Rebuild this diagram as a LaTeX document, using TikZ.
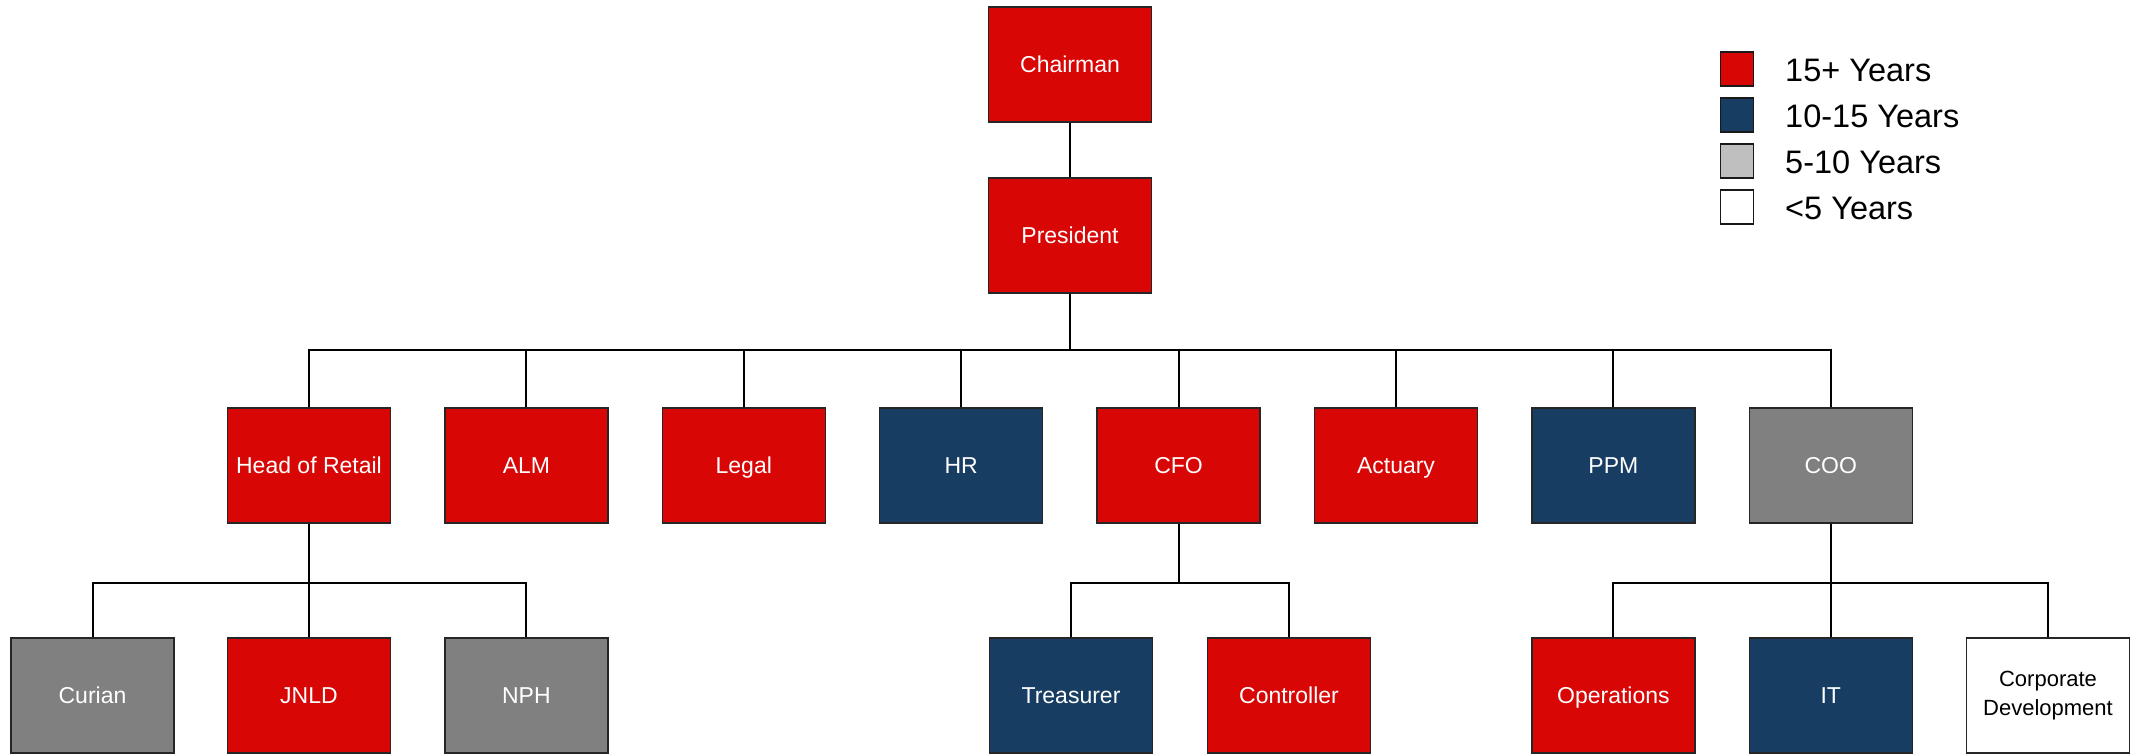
\documentclass[tikz,border=0pt]{standalone}
\usepackage{fontspec}
\setmainfont{Liberation Sans}
\definecolor{cred}{HTML}{D90606}
\definecolor{cnavy}{HTML}{173D63}
\definecolor{cgray}{HTML}{808080}
\definecolor{clgray}{HTML}{BFBFBF}
\begin{document}
\begin{tikzpicture}[x=1pt,y=-1pt,
  box/.style={draw=black!85, line width=1.3pt, minimum width=163pt, minimum height=115pt,
    inner sep=0pt, text=white, font=\fontsize{23}{27}\selectfont, text height=16.5pt, text depth=0pt},
  yrA/.style={box, fill=cred},
  yrB/.style={box, fill=cnavy},
  yrC/.style={box, fill=cgray},
  yrD/.style={draw=black!85, line width=1.3pt, minimum width=163pt, minimum height=115pt,
    inner sep=0pt, fill=white, text=black, align=center, font=\fontsize{22}{29.5}\selectfont},
  link/.style={line width=2pt, black},
  swatch/.style={draw=black!90, line width=1.3pt, minimum width=33pt, minimum height=34pt, inner sep=0pt},
  legtext/.style={anchor=base west, inner sep=0pt, font=\fontsize{32.5}{38}\selectfont}
]
\useasboundingbox (0,0) rectangle (2134,753);
\clip (0,0) rectangle (2134,753);

\coordinate (b1) at (0,350);
\coordinate (b2) at (0,583);

% level 0/1
\node[yrA] (chair) at (1070,64.5) {Chairman};
\node[yrA] (pres) at (1070,235.5) {President};

% level 2
\node[yrA] (hor) at (309,465.5) {Head of Retail};
\node[yrA] (alm) at (526.4,465.5) {ALM};
\node[yrA] (legal) at (743.8,465.5) {Legal};
\node[yrB] (hr) at (961.2,465.5) {HR};
\node[yrA] (cfo) at (1178.6,465.5) {CFO};
\node[yrA] (act) at (1396,465.5) {Actuary};
\node[yrB] (ppm) at (1613.4,465.5) {PPM};
\node[yrC] (coo) at (1830.8,465.5) {COO};

% level 3
\node[yrC] (cur) at (92.5,695.5) {Curian};
\node[yrA] (jnld) at (309,695.5) {JNLD};
\node[yrC] (nph) at (526.4,695.5) {NPH};
\node[yrB] (tre) at (1071,695.5) {Treasurer};
\node[yrA] (con) at (1289,695.5) {Controller};
\node[yrA] (ops) at (1613.4,695.5) {Operations};
\node[yrB] (it) at (1830.8,695.5) {IT};
\node[yrD] (cd) at (2048,695.5) {Corporate\\Development};

% connectors
\draw[link] (chair) -- (pres);
\foreach \c in {hor,alm,legal,hr,cfo,act,ppm,coo}
  \draw[link] (pres.south) -- (pres.south |- b1) -| (\c.north);
\foreach \c in {cur,jnld,nph}
  \draw[link] (hor.south) -- (hor.south |- b2) -| (\c.north);
\foreach \c in {tre,con}
  \draw[link] (cfo.south) -- (cfo.south |- b2) -| (\c.north);
\foreach \c in {ops,it,cd}
  \draw[link] (coo.south) -- (coo.south |- b2) -| (\c.north);

% legend
\node[swatch, fill=cred] (s1) at (1737,69) {};
\node[swatch, fill=cnavy] (s2) at (1737,115) {};
\node[swatch, fill=clgray] (s3) at (1737,161) {};
\node[swatch, fill=white] (s4) at (1737,207) {};
\node[legtext] (t1) at (1785,81) {15+ Years};
\node[legtext] (t2) at (1785,127) {10-15 Years};
\node[legtext] (t3) at (1785,173) {5-10 Years};
\node[legtext] (t4) at (1785,219) {<5 Years};
\end{tikzpicture}
\end{document}
